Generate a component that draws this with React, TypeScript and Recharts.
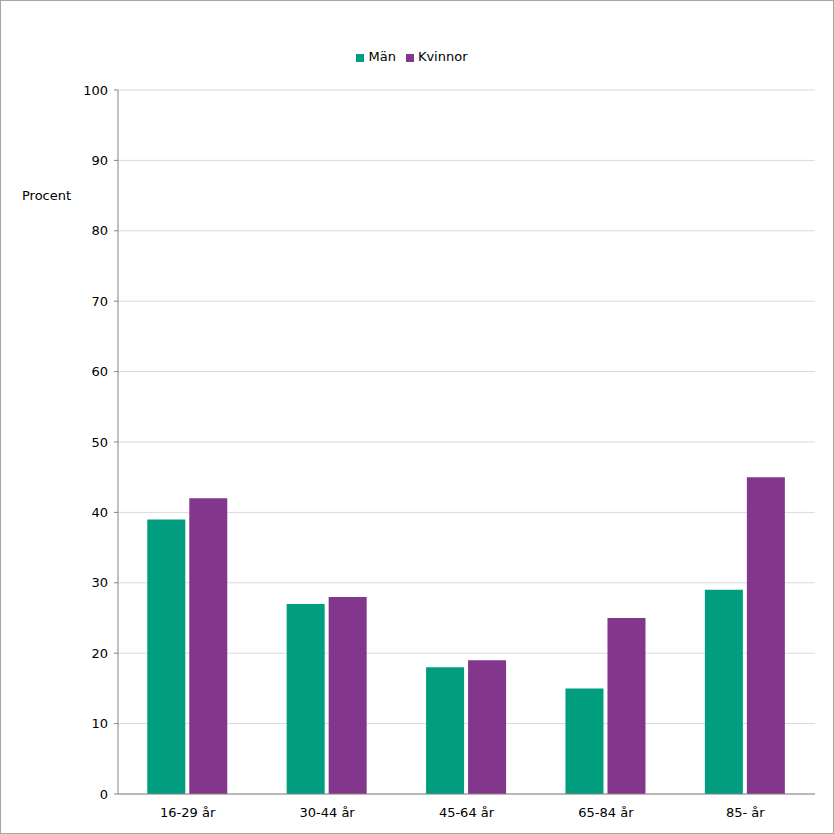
import { BarChart, Bar, XAxis, YAxis, CartesianGrid, Legend } from "recharts";

const categories = ["16-29 år", "30-44 år", "45-64 år", "65-84 år", "85- år"];
const man = [39, 27, 18, 15, 29];
const kvinnor = [42, 28, 19, 25, 45];
const yTicks = [0, 10, 20, 30, 40, 50, 60, 70, 80, 90, 100];
const seriesOrder = ["man", "kvinnor"];

const data = categories.map((c, i) => ({ name: c, man: man[i], kvinnor: kvinnor[i] }));

const font = "Verdana, 'DejaVu Sans', sans-serif";

export default function App() {
  return (
    <div
      style={{
        position: "absolute",
        left: 0,
        top: 0,
        width: 834,
        height: 834,
        boxSizing: "border-box",
        border: "1px solid #a6a6a6",
        background: "#fff",
        fontFamily: font,
      }}
    >
      <div style={{ position: "absolute", left: 21, top: 187, fontSize: 13, color: "#000" }}>Procent</div>
      <BarChart
        width={832}
        height={832}
        data={data}
        margin={{ top: 74, right: 18, left: 57, bottom: 9 }}
        barGap={4}
        barCategoryGap="21%"
      >
        <CartesianGrid vertical={false} stroke="#d9d9d9" />
        <XAxis
          dataKey="name"
          tickLine={false}
          axisLine={{ stroke: "#868686" }}
          tick={{ fill: "#000", fontSize: 13, fontFamily: font }}
          tickMargin={8}
          height={30}
        />
        <YAxis
          domain={[0, 100]}
          ticks={yTicks}
          width={60}
          tickSize={4}
          tickLine={{ stroke: "#868686" }}
          axisLine={{ stroke: "#868686" }}
          tick={{ fill: "#000", fontSize: 13, fontFamily: font }}
          tickMargin={6}
          interval={0}
        />
        <Legend
          verticalAlign="top"
          align="center"
          iconType="square"
          iconSize={8}
          itemSorter={(item: any) => seriesOrder.indexOf(item.dataKey)}
          wrapperStyle={{ top: 48, left: 0, width: 832, fontSize: 13, color: "#000" }}
          formatter={(v) => <span style={{ color: "#000" }}>{v}</span>}
        />
        <Bar dataKey="man" name="Män" fill="#009e7e" isAnimationActive={false} />
        <Bar dataKey="kvinnor" name="Kvinnor" fill="#82368c" isAnimationActive={false} />
      </BarChart>
    </div>
  );
}
